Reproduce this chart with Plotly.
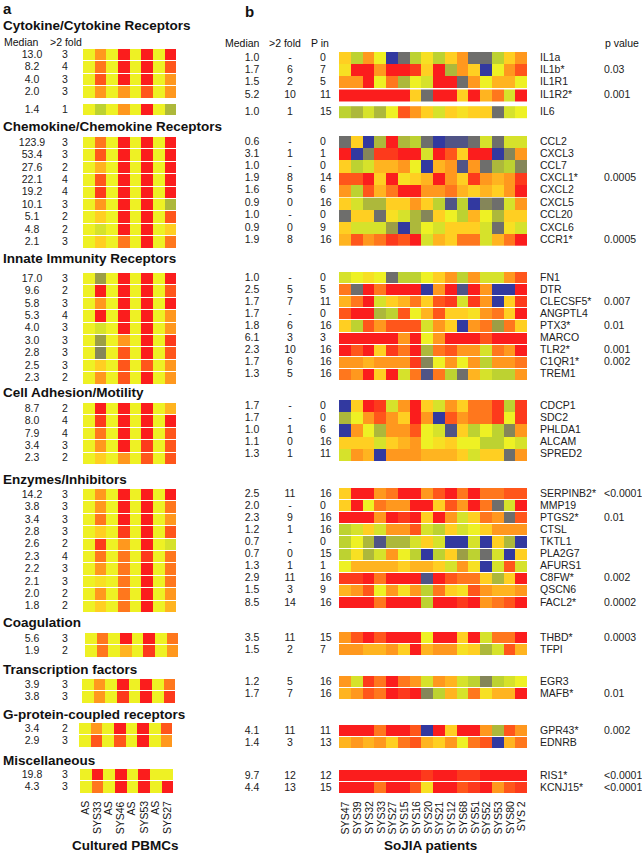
import plotly.graph_objects as go

W, H = 642, 853
FONT = "Liberation Sans, Arial, sans-serif"

# ---------------- data ----------------
GROUPS = ["Cytokine/Cytokine Receptors", "Chemokine/Chemokine Receptors",
          "Innate Immunity Receptors", "Cell Adhesion/Motility", "Enzymes/Inhibitors",
          "Coagulation", "Transcription factors", "G-protein-coupled receptors", "Miscellaneous"]

A_COLS = ["AS", "SYS33", "AS", "SYS46", "AS", "SYS53", "AS", "SYS27"]
B_COLS = ["SYS47", "SYS39", "SYS32", "SYS33", "SYS27", "SYS15", "SYS16", "SYS20",
          "SYS21", "SYS12", "SYS68", "SYS51", "SYS52", "SYS53", "SYS80", "SYS 2"]

A_MEDIAN = [[13.0, 8.2, 4.0, 2.0, 1.4],
            [123.9, 53.4, 27.6, 22.1, 19.2, 10.1, 5.1, 4.8, 2.1],
            [17.0, 9.6, 5.8, 5.3, 4.0, 3.0, 2.8, 2.5, 2.3],
            [8.7, 8.0, 7.9, 3.4, 2.3],
            [14.2, 3.8, 3.4, 2.8, 2.6, 2.3, 2.2, 2.1, 2.0, 1.8],
            [5.6, 1.9], [3.9, 3.8], [3.4, 2.9], [19.8, 4.3]]
A_FOLD = [[3, 4, 3, 3, 1],
          [3, 3, 2, 4, 4, 3, 2, 2, 3],
          [3, 2, 3, 4, 3, 3, 3, 3, 2],
          [2, 4, 4, 3, 2],
          [3, 3, 3, 3, 2, 4, 3, 3, 2, 2],
          [3, 2], [3, 3], [2, 3], [3, 3]]
A_Z = [
    [[4, 6, 4, 8, 4, 8, 4, 8], [4, 6.5, 4, 8, 4, 8, 4, 7], [4, 7, 4, 8, 4, 8, 4, 6],
     [4, 6, 4, 6, 4, 7, 4, 6], [4, 3, 4, 6, 4, 8, 4, 2.5]],
    [[4, 6.5, 4, 8, 4, 8, 4, 8], [4, 7, 4, 8, 4, 8, 4, 8], [4, 5.5, 4, 8, 4, 8, 4, 8],
     [4, 7, 4, 8, 4, 8, 4, 8], [4, 7.5, 4, 8, 4, 8, 4, 8], [4, 6, 4, 8, 4, 8, 4, 2.5],
     [4, 5, 4, 8, 4, 8, 4, 7], [4, 3.5, 4, 8, 4, 8, 4, 5], [4, 5, 4, 6.5, 4, 8, 4, 6.5]],
    [[4, 2, 4, 8, 4, 8, 4, 8], [4, 8, 4, 8, 4, 8, 4, 7], [4, 6, 4, 8, 4, 8, 4, 8],
     [4, 8, 4, 8, 4, 8, 4, 6], [4, 3.5, 4, 8, 4, 8, 4, 6], [4, 2, 4, 6, 4, 8, 4, 7.5],
     [4, 1.5, 4, 7, 4, 8, 4, 7], [4, 5, 4, 7, 4, 7, 4, 6], [4, 6, 4, 7, 4, 8, 4, 6]],
    [[4, 8, 4, 8, 4, 8, 4, 5.5], [4, 7.5, 4, 8, 4, 8, 4, 8], [4, 6.5, 4, 8, 4, 8, 4, 7],
     [4, 6, 4, 8, 4, 7.5, 4, 7], [4, 5, 4, 6, 4, 7, 4, 7]],
    [[4, 6, 4, 8, 4, 8, 4, 8], [4, 6, 4, 8, 4, 8, 4, 6.5], [4, 6.5, 4, 8, 4, 8, 4, 6],
     [4, 5, 4, 7.5, 4, 8, 4, 7], [4, 7.5, 4, 6, 4, 8, 4, 3.5], [4, 6.5, 4, 6.5, 4, 7.5, 4, 6.5],
     [4, 6, 4, 6.5, 4, 8, 4, 6.5], [4, 4.5, 4, 6.5, 4, 8, 4, 6.5], [4, 6, 4, 6.5, 4, 8, 4, 6],
     [4, 5, 4, 6.5, 4, 8, 4, 5.5]],
    [[4, 6.5, 4, 8, 4, 8, 4, 6.5], [4, 6.5, 4, 5.5, 4, 7.5, 4, 6]],
    [[4, 6, 4, 8, 4, 8, 4, 6.5], [4, 6, 4, 7.5, 4, 8, 4, 7.5]],
    [[4, 6, 4, 8, 4, 8, 4, 7], [4, 7, 4, 7, 4, 8, 4, 6]],
    [[4, 8, 4, 8, 4, 8, 4, 4], [4, 6.5, 4, 8, 4, 8, 4, 8]],
]

B_GENES = [["IL1a", "IL1b*", "IL1R1", "IL1R2*", "IL6"],
           ["CCL2", "CXCL3", "CCL7", "CXCL1*", "CXCL2", "CXCL5", "CCL20", "CXCL6", "CCR1*"],
           ["FN1", "DTR", "CLECSF5*", "ANGPTL4", "PTX3*", "MARCO", "TLR2*", "C1QR1*", "TREM1"],
           ["CDCP1", "SDC2", "PHLDA1", "ALCAM", "SPRED2"],
           ["SERPINB2*", "MMP19", "PTGS2*", "CTSL", "TKTL1", "PLA2G7", "AFURS1", "C8FW*", "QSCN6", "FACL2*"],
           ["THBD*", "TFPI"], ["EGR3", "MAFB*"], ["GPR43*", "EDNRB"], ["RIS1*", "KCNJ15*"]]
B_MEDIAN = [[1.0, 1.7, 1.5, 5.2, 1.0],
            [0.6, 3.1, 1.0, 1.9, 1.6, 0.9, 1.0, 0.9, 1.9],
            [1.0, 2.5, 1.7, 1.7, 1.8, 6.1, 2.3, 1.7, 1.3],
            [1.7, 1.7, 1.0, 1.1, 1.3],
            [2.5, 2.0, 2.3, 1.2, 0.7, 0.7, 1.3, 2.9, 1.5, 8.5],
            [3.5, 1.5], [1.2, 1.7], [4.1, 1.4], [9.7, 4.4]]
B_FOLD = [["-", "6", "2", "10", "1"],
          ["-", "1", "-", "8", "5", "0", "-", "0", "8"],
          ["-", "5", "7", "-", "6", "3", "10", "6", "5"],
          ["-", "-", "1", "0", "1"],
          ["11", "-", "9", "1", "-", "0", "1", "11", "3", "14"],
          ["11", "2"], ["5", "7"], ["11", "3"], ["12", "13"]]
B_PIN = [[0, 7, 5, 11, 15],
         [0, 1, 0, 14, 6, 16, 0, 9, 16],
         [0, 5, 11, 0, 16, 3, 16, 16, 16],
         [0, 0, 6, 16, 11],
         [16, 0, 16, 16, 0, 15, 1, 16, 9, 16],
         [15, 7], [16, 16], [11, 13], [12, 15]]
B_PVAL = [["", "0.03", "", "0.001", ""],
          ["", "", "", "0.0005", "", "", "", "", "0.0005"],
          ["", "", "0.007", "", "0.01", "", "0.001", "0.002", ""],
          ["", "", "", "", ""],
          ["<0.0001", "", "0.01", "", "", "", "", "0.002", "", "0.0002"],
          ["0.0003", ""], ["", "0.01"], ["0.002", ""], ["<0.0001", "<0.0001"]]
B_Z = [
    [[5, 3, 6, 4, 0, 1, 3, 4.5, 3, 5, 6, 1, 1, 3, 5, 6],
     [4.5, 8, 8, 6, 8, 8, 7.5, 5, 8, 2.5, 6, 5, 0, 4, 6, 7],
     [6, 6, 8, 4, 6.5, 2.5, 4, 3.5, 8, 8, 1, 6, 4, 5.5, 5.5, 4],
     [8, 8, 8, 8, 8, 8, 5, 1, 8, 8, 5, 8, 5.5, 6.5, 3.5, 8],
     [3, 2.5, 3.5, 2.5, 4, 7, 6, 5, 3.5, 5, 4.5, 5, 5, 1, 3.5, 4]],
    [[1, 5, 0, 2.5, 8, 2.5, 3, 1, 0, 0.5, 0.5, 1, 3.5, 1, 3.5, 3.5],
     [8, 0, 1.5, 7.5, 7.5, 8, 8, 3.5, 8, 7, 5, 8, 8, 0, 1.5, 6],
     [5, 3, 3.5, 5.5, 5.5, 6, 4, 0, 5.5, 6, 0.5, 6, 1, 2.5, 3, 1.5],
     [7, 7, 8, 5, 8, 4.5, 5, 5.5, 8, 6, 5, 7.5, 6, 5.5, 6, 7.5],
     [6, 3, 7, 5.5, 6.5, 8, 8, 6, 6, 6.5, 5.5, 5, 5.5, 5, 6, 8],
     [5, 3.5, 2.5, 2.5, 5, 5, 6, 5, 3, 0.5, 3, 0, 1.5, 1, 3.5, 6],
     [1, 5, 5, 1, 4.5, 3.5, 2.5, 1.5, 5, 4, 3, 5.5, 4, 2.5, 5, 5],
     [5, 3.5, 3.5, 3.5, 2, 0, 2.5, 4, 3.5, 5, 5, 5, 3.5, 1, 4.5, 3.5],
     [5.5, 7, 6, 6.5, 7.5, 7, 8, 3.5, 5.5, 5, 6.5, 6.5, 3.5, 5.5, 6.5, 8]],
    [[3.5, 4, 4.5, 4, 1, 3, 3, 4, 5, 6, 3, 6, 3.5, 3.5, 6, 7],
     [6.5, 1, 8, 6.5, 8, 8, 8, 0, 6, 8, 0.5, 8, 6, 0, 0, 8],
     [5.5, 6.5, 8, 3.5, 5, 5.5, 6.5, 5, 7, 7.5, 3.5, 7.5, 6, 0, 5, 7.5],
     [7, 8, 8, 2.5, 3, 7, 4, 5.5, 7, 5, 5, 4.5, 6, 6.5, 5, 8],
     [5, 3, 7, 6, 7, 7, 7, 3.5, 6, 5, 0, 6, 6.5, 2, 6.5, 5],
     [8, 8, 8, 8, 8, 6, 8, 4, 6, 8, 8, 8, 7, 8, 8, 8],
     [8, 7, 8, 5, 7.5, 6.5, 8, 2.5, 6.5, 7, 6, 6, 3.5, 6.5, 6, 8],
     [6, 6, 5.5, 6, 6, 6, 7.5, 1.5, 4, 6, 4, 6, 3, 6, 6, 6.5],
     [6.5, 6, 8, 5, 8, 3.5, 6.5, 0.5, 6.5, 3, 1, 5.5, 3.5, 3, 3, 6]],
    [[0, 5, 8, 7.5, 3.5, 6, 8, 5, 3.5, 6, 5, 6.5, 6.5, 7.5, 3, 7.5],
     [2.5, 4, 6, 7, 6, 5, 8, 6, 0, 7, 6, 6.5, 6.5, 7.5, 4, 7.5],
     [0, 6, 4, 2.5, 6, 6, 7, 4, 3.5, 0.5, 5, 3, 4, 3, 1.5, 6],
     [5, 5, 5, 3.5, 5, 5.5, 6, 4, 4.5, 5, 4, 4, 3, 3, 4, 3.5],
     [3.5, 6, 5.5, 0, 6, 6, 6, 5.5, 5.5, 5.5, 5, 3.5, 5, 5, 1, 6]],
    [[5, 8, 8, 6, 6.5, 8, 8, 6, 7, 8, 6.5, 8, 6.5, 6.5, 7, 7],
     [5, 8, 4, 6.5, 6, 6, 8, 8, 5, 7, 6, 8, 6.5, 1, 3.5, 8],
     [8, 8, 8, 6, 8, 7.5, 8, 5, 8, 6, 3.5, 5, 6.5, 6, 1, 7],
     [3, 3.5, 5, 3.5, 6, 6, 7, 3.5, 3, 5, 3.5, 4, 5, 6, 6, 6],
     [3, 4, 2.5, 0.5, 2.5, 2.5, 3.5, 5, 3.5, 0, 0, 3.5, 0, 5, 2.5, 0],
     [3, 4.5, 2.5, 3.5, 6, 4, 3, 0, 3, 5, 2, 3, 1, 3.5, 0, 5],
     [4, 5.5, 5.5, 5.5, 5.5, 5, 5.5, 5.5, 5, 3.5, 6, 4.5, 0, 3.5, 7, 3.5],
     [7.5, 7.5, 8, 6.5, 8, 8, 8, 0.5, 8, 7, 6.5, 6.5, 5, 2.5, 5, 8],
     [5.5, 6, 7, 4, 6, 4.5, 6, 3, 6.5, 5, 4.5, 7, 6, 5.5, 5.5, 6],
     [8, 8, 8, 6.5, 8, 8, 8, 3, 8, 8, 7.5, 8, 6, 6.5, 7, 8]],
    [[6, 7, 8, 7, 8, 8, 8, 4, 8, 8, 5, 8, 3.5, 6.5, 6.5, 8],
     [6, 6, 5.5, 5.5, 6, 5, 8, 5.5, 6, 6, 4.5, 5, 2.5, 3.5, 7, 5.5]],
    [[6, 3.5, 7.5, 6.5, 8, 6.5, 6, 3.5, 6, 5.5, 3.5, 3, 1.5, 3, 3.5, 4],
     [5.5, 6, 7, 6.5, 8, 7.5, 8, 1.5, 3, 5.5, 3.5, 6.5, 4.5, 5.5, 5.5, 8]],
    [[8, 8, 8, 6.5, 8, 8, 7, 0, 8, 5, 8, 8, 6, 2.5, 7, 6],
     [5.5, 6, 5.5, 6, 5, 6.5, 7, 5.5, 5, 6, 4, 6.5, 7, 0, 5.5, 6.5]],
    [[8, 8, 8, 8, 8, 8, 8, 7.5, 8, 8, 7.5, 7.5, 8, 8, 8, 8],
     [8, 8, 8, 6.5, 8, 8, 7, 4.5, 8, 8, 7, 7.5, 8, 6, 7, 7.5]],
]

# ---------------- style / layout constants ----------------
COLORS = ["#3239a0", "#6e6e6c", "#9c9e45", "#bdd231", "#eef124",
          "#ffcf22", "#ff981e", "#ff561b", "#fb1d1d"]
COLORSCALE = [[i / (len(COLORS) - 1), c] for i, c in enumerate(COLORS)]

A_TOP = [49, 137, 273, 403, 489, 633, 679, 723, 769]
A_LEFT = [83, 83, 83, 83, 83, 85, 82, 79, 80]
A_ROW_H = 12.4
A_DX = 11.65
A_BREAKS = {0: {4: 5.4}}            # row index -> extra white gap above it
A_YGAP = [1] * 9
A_MED_X, A_FOLD_X = 32, 65

B_TOP = [52, 136, 272, 400, 488, 632, 676, 725, 770]
B_LEFT = 339
B_ROW_H = 12.1
B_DX = 11.75
B_BREAKS = {0: {3: 1.2, 4: 4.6}, 1: {5: 1.2}}
B_YGAP = [0, 0, 1, 0, 1, 1, 1, 1, 1]
B_MED_X, B_FOLD_X, B_PIN_X, B_GENE_X, B_P_X = 252, 290, 320, 540, 604

TITLE_Y = [25, 126, 258, 392, 479, 622, 669, 714, 760]

fig = go.Figure()


def offsets(n, breaks):
    out, acc = [], 0.0
    for i in range(n):
        acc += breaks.get(i, 0.0)
        out.append(acc)
    return out


def centers(top, h, n, breaks):
    off = offsets(n, breaks)
    return [top + (i + 0.5) * h + off[i] for i in range(n)]


def add_blocks(zrows, top, h, left, dx, breaks, ygap):
    n = len(zrows)
    off = offsets(n, breaks)
    cuts = [0] + sorted(k for k in breaks if 0 < k < n) + [n]
    for s, e in zip(cuts[:-1], cuts[1:]):
        fig.add_trace(go.Heatmap(
            z=zrows[s:e], x0=left + dx / 2, dx=dx,
            y0=top + (s + 0.5) * h + off[s], dy=h,
            zmin=0, zmax=len(COLORS) - 1, colorscale=COLORSCALE,
            showscale=False, ygap=ygap, hoverinfo="skip"))


texts = {k: ([], [], []) for k in
         ["amed", "afold", "bmed", "bfold", "bpin", "bgene", "bp"]}


def push(key, x, y, t):
    texts[key][0].append(x)
    texts[key][1].append(y)
    texts[key][2].append(t)


for g in range(len(GROUPS)):
    # panel a
    ab = A_BREAKS.get(g, {})
    add_blocks(A_Z[g], A_TOP[g], A_ROW_H, A_LEFT[g], A_DX, ab, A_YGAP[g])
    ya = centers(A_TOP[g], A_ROW_H, len(A_MEDIAN[g]), ab)
    for y, m, f in zip(ya, A_MEDIAN[g], A_FOLD[g]):
        push("amed", A_MED_X, y, f"{m:.1f}")
        push("afold", A_FOLD_X, y, str(f))
    # panel b
    bb = B_BREAKS.get(g, {})
    add_blocks(B_Z[g], B_TOP[g], B_ROW_H, B_LEFT, B_DX, bb, B_YGAP[g])
    yb = centers(B_TOP[g], B_ROW_H, len(B_MEDIAN[g]), bb)
    for y, m, f, p, gene, pv in zip(yb, B_MEDIAN[g], B_FOLD[g], B_PIN[g],
                                    B_GENES[g], B_PVAL[g]):
        push("bmed", B_MED_X, y, f"{m:.1f}")
        push("bfold", B_FOLD_X, y, f)
        push("bpin", B_PIN_X, y, str(p))
        push("bgene", B_GENE_X, y, gene)
        if pv:
            push("bp", B_P_X, y, pv)

POS = {"amed": "middle center", "afold": "middle center", "bmed": "middle center",
       "bfold": "middle center", "bpin": "middle right", "bgene": "middle right",
       "bp": "middle right"}
for k, (xs, ys, ts) in texts.items():
    fig.add_trace(go.Scatter(x=xs, y=ys, text=ts, mode="text", textposition=POS[k],
                             textfont=dict(family=FONT, size=10.5, color="#222"),
                             hoverinfo="skip", showlegend=False))

ann = []


def note(x, y, t, size=10.5, bold=False, xa="left", ya="middle", angle=0):
    ann.append(dict(x=x, y=y, xref="x", yref="y", text=f"<b>{t}</b>" if bold else t,
                    showarrow=False, xanchor=xa, yanchor=ya, textangle=angle,
                    font=dict(family=FONT, size=size, color="#111")))


note(1, 8, "a", 15, True)
note(243, 11, "b", 15, True)
for g, t in enumerate(GROUPS):
    note(1, TITLE_Y[g], t, 13.5, True)
note(21, 42, "Median", xa="center")
note(66, 42, ">2 fold", xa="center")
note(242, 43, "Median", xa="center")
note(285, 43, ">2 fold", xa="center")
note(320, 43, "P in", xa="center")
note(603, 43, "p value")

for i, c in enumerate(A_COLS):
    note(A_LEFT[-1] + (i + 0.5) * A_DX - 1, 799, c, 10.5, xa="center", ya="top", angle=-90)
for i, c in enumerate(B_COLS):
    note(B_LEFT + (i + 0.5) * B_DX, 799, c, 10.5, xa="center", ya="top", angle=-90)
note(125, 845, "Cultured PBMCs", 13.5, True, xa="center")
note(430, 845, "SoJIA patients", 13.5, True, xa="center")

fig.update_layout(
    width=W, height=H, margin=dict(l=0, r=0, t=0, b=0),
    paper_bgcolor="white", plot_bgcolor="white", showlegend=False,
    xaxis=dict(range=[0, W], visible=False, fixedrange=True),
    yaxis=dict(range=[H, 0], visible=False, fixedrange=True),
    annotations=ann,
)
fig.write_html("out.html", config={"displayModeBar": False},
               post_script="document.body.style.margin='0';document.body.style.overflow='hidden';")
